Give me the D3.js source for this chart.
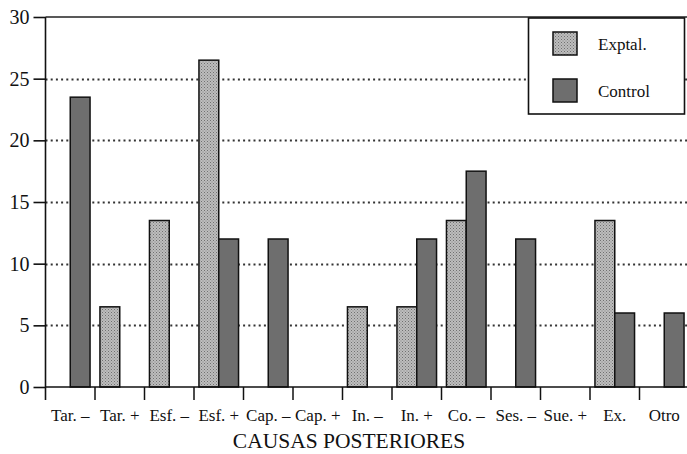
<!DOCTYPE html>
<html>
<head>
<meta charset="utf-8">
<script src="https://cdn.jsdelivr.net/npm/d3@7"></script>
<style>
  html, body { margin: 0; padding: 0; background: #fff; }
  svg { display: block; }
</style>
</head>
<body>
<svg id="chart" width="687" height="454" style="font-family: 'Liberation Serif', 'DejaVu Serif', serif;"></svg>
<script>
const categories = ["Tar. –", "Tar. +", "Esf. –", "Esf. +", "Cap. –", "Cap. +", "In. –", "In. +", "Co. –", "Ses. –", "Sue. +", "Ex.", "Otro"];
const exptal  = [0, 6.5, 13.5, 26.5, 0, 0, 6.5, 6.5, 13.5, 0, 0, 13.5, 0];
const control = [23.5, 0, 0, 12, 12, 0, 0, 12, 17.5, 12, 0, 6, 6];
const yTicks = [0, 5, 10, 15, 20, 25, 30];
const seriesNames = ["Exptal.", "Control"];
const axisTitle = "CAUSAS POSTERIORES";

const FONT = "'Liberation Serif', 'DejaVu Serif', serif";
const svg = d3.select("#chart");
const W = 687, H = 454;
const x0 = 45.5, x1 = 689, yTop = 17, yBot = 387;

const x = d3.scaleBand().domain(categories).range([x0, x1]).paddingInner(0).paddingOuter(0);
const y = d3.scaleLinear().domain([0, 30]).range([yBot, yTop]);

const defs = svg.append("defs");
const pat = defs.append("pattern").attr("id", "stip").attr("patternUnits", "userSpaceOnUse")
  .attr("width", 3).attr("height", 3);
pat.append("rect").attr("width", 3).attr("height", 3).attr("fill", "#bdbdbd");
pat.append("rect").attr("x", 0).attr("y", 0).attr("width", 1).attr("height", 1).attr("fill", "#707070");
pat.append("rect").attr("x", 1.5).attr("y", 1.5).attr("width", 1).attr("height", 1).attr("fill", "#808080");

const controlFill = "#6e6e6e";

svg.append("g").selectAll("line").data(yTicks.filter(d => d > 0 && d < 30)).join("line")
  .attr("x1", x0).attr("x2", W).attr("y1", d => Math.round(y(d)) + 0.5).attr("y2", d => Math.round(y(d)) + 0.5)
  .attr("stroke", "#333").attr("stroke-width", 2).attr("stroke-dasharray", "2,3.2");

svg.append("line").attr("x1", x0).attr("x2", W).attr("y1", y(30)).attr("y2", y(30))
  .attr("stroke", "#222").attr("stroke-width", 1.6);

const bw = x.bandwidth() * 0.4;
const data = categories.map((c, i) => ({c, e: exptal[i], k: control[i]}));
const gBars = svg.append("g");
gBars.selectAll("rect.e").data(data.filter(d => d.e > 0)).join("rect").attr("class", "e")
  .attr("x", d => x(d.c) + x.bandwidth() / 2 - bw).attr("width", bw)
  .attr("y", d => y(d.e)).attr("height", d => y(0) - y(d.e))
  .attr("fill", "url(#stip)").attr("stroke", "#111").attr("stroke-width", 1.5);
gBars.selectAll("rect.k").data(data.filter(d => d.k > 0)).join("rect").attr("class", "k")
  .attr("x", d => x(d.c) + x.bandwidth() / 2).attr("width", bw)
  .attr("y", d => y(d.k)).attr("height", d => y(0) - y(d.k))
  .attr("fill", controlFill).attr("stroke", "#111").attr("stroke-width", 1.5);

const yAxis = d3.axisLeft(y).tickValues(yTicks).tickSize(12).tickSizeOuter(0).tickPadding(4);
const gy = svg.append("g").attr("transform", `translate(${x0},0)`).call(yAxis);
gy.attr("font-family", null).attr("font-size", null);
gy.select(".domain").remove();
gy.selectAll(".tick line").attr("stroke", "#111").attr("stroke-width", 1.6);
gy.selectAll(".tick text").style("font-family", FONT).style("font-size", "20px").attr("fill", "#111");
svg.append("line").attr("x1", x0).attr("x2", x0).attr("y1", yTop).attr("y2", yBot + 13)
  .attr("stroke", "#111").attr("stroke-width", 1.6);

svg.append("line").attr("x1", x0).attr("x2", W).attr("y1", yBot).attr("y2", yBot)
  .attr("stroke", "#111").attr("stroke-width", 1.6);
svg.append("g").selectAll("line").data(categories.slice(1)).join("line")
  .attr("x1", d => x(d)).attr("x2", d => x(d)).attr("y1", yBot).attr("y2", yBot + 13)
  .attr("stroke", "#111").attr("stroke-width", 1.5);

const xAxis = d3.axisBottom(x).tickSize(0).tickPadding(0);
const gx = svg.append("g").attr("transform", `translate(0,${yBot})`).call(xAxis);
gx.attr("font-family", null).attr("font-size", null);
gx.select(".domain").remove();
gx.selectAll(".tick text").attr("dy", null).attr("y", 34).attr("fill", "#111")
  .style("font-family", FONT).style("font-size", "17px");

svg.append("text").attr("x", 349).attr("y", 448).attr("text-anchor", "middle")
  .style("font-family", FONT).style("font-size", "21.5px").attr("fill", "#111").text(axisTitle);

const lg = svg.append("g");
lg.append("rect").attr("x", 528.5).attr("y", 18).attr("width", 156).attr("height", 96)
  .attr("fill", "#fff").attr("stroke", "#111").attr("stroke-width", 1.6);
const fills = ["url(#stip)", controlFill];
const ly = [32, 79];
seriesNames.forEach((n, i) => {
  lg.append("rect").attr("x", 553).attr("y", ly[i]).attr("width", 24).attr("height", 23)
    .attr("fill", fills[i]).attr("stroke", "#111").attr("stroke-width", 1.5);
  lg.append("text").attr("x", 598).attr("y", ly[i] + 18).style("font-family", FONT)
    .style("font-size", "17px").attr("fill", "#111").text(n);
});
</script>
</body>
</html>
